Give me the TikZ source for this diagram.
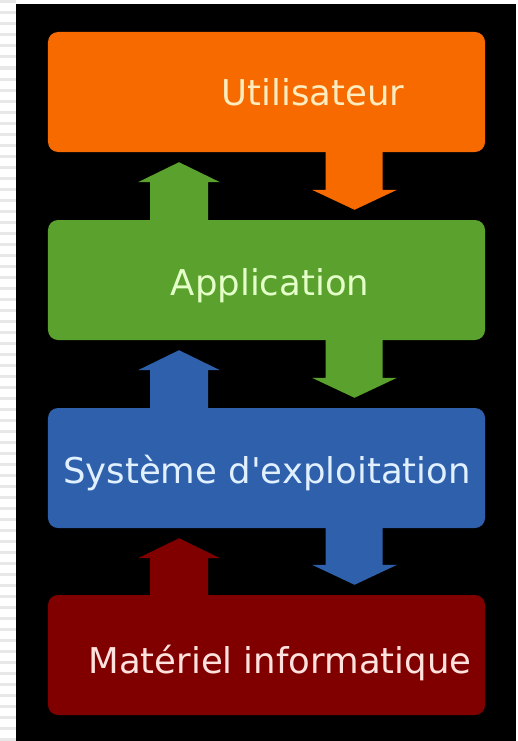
\documentclass[tikz,border=0pt]{standalone}
\usepackage{fontspec}
\setmainfont{DejaVu Sans}
\usetikzlibrary{calc}

\definecolor{userorange}{RGB}{246,106,0}
\definecolor{appgreen}{RGB}{90,161,46}
\definecolor{osblue}{RGB}{46,96,172}
\definecolor{hwred}{RGB}{128,0,0}
\definecolor{usertext}{RGB}{255,236,190}
\definecolor{apptext}{RGB}{228,255,200}
\definecolor{ostext}{RGB}{225,240,255}
\definecolor{hwtext}{RGB}{255,226,222}

\tikzstyle{layer} = [minimum width=437bp, minimum height=120bp, inner sep=0pt, rounded corners=10bp]
\tikzstyle{cuser} = [fill=userorange]
\tikzstyle{capp}  = [fill=appgreen]
\tikzstyle{cos}   = [fill=osblue]
\tikzstyle{chw}   = [fill=hwred]
\tikzstyle{lbl}   = [anchor=base, inner sep=0pt, font=\fontsize{35.5bp}{42bp}\selectfont]
\def\dnarr#1#2#3{
  \fill[#3] ($(#1.south)+(59,0)$) |- ($(#2.north)+(45.5,-30)$) -- ($(#2.north)+(88,-10)$)
    -- ($(#2.north)+(130.5,-30)$) -| ($(#1.south)+(116,0)$) -- cycle;
}
\def\uparr#1#2#3{
  \fill[#3] ($(#1.north)+(-116.5,0)$) |- ($(#2.south)+(-128.5,30)$) -- ($(#2.south)+(-87.5,10)$)
    -- ($(#2.south)+(-46.5,30)$) -| ($(#1.north)+(-58.5,0)$) -- cycle;
}

\begin{document}
\begin{tikzpicture}[x=1bp, y=-1bp]
    \useasboundingbox (0,0) rectangle (518,741);
    \fill[white] (0,0) rectangle (518,741);
    \foreach \y in {2,13,...,741}
      \draw[gray!18, line width=3bp] (0,\y) -- (16,\y);
    \fill[black] (16,4) rectangle (516,741);
    \node[layer, cuser] (user) at (266.5,92)  {};
    \node[layer, capp]  (app)  at (266.5,280) {};
    \node[layer, cos]   (os)   at (266.5,468) {};
    \node[layer, chw]   (hw)   at (266.5,655) {};
    \node[lbl, text=usertext] (usertxt) at (313,105) {Utilisateur};
    \node[lbl, text=apptext]  (apptxt)  at (270,295) {Application};
    \node[lbl, text=ostext]   (ostxt)   at (267,483) {Système d\textquotesingle exploitation};
    \node[lbl, text=hwtext]   (hwtxt)   at (280,673) {Matériel informatique};
    \dnarr{user}{app}{cuser}
    \dnarr{app}{os}{capp}
    \dnarr{os}{hw}{cos}
    \uparr{app}{user}{capp}
    \uparr{os}{app}{cos}
    \uparr{hw}{os}{chw}
  \end{tikzpicture}
\end{document}
